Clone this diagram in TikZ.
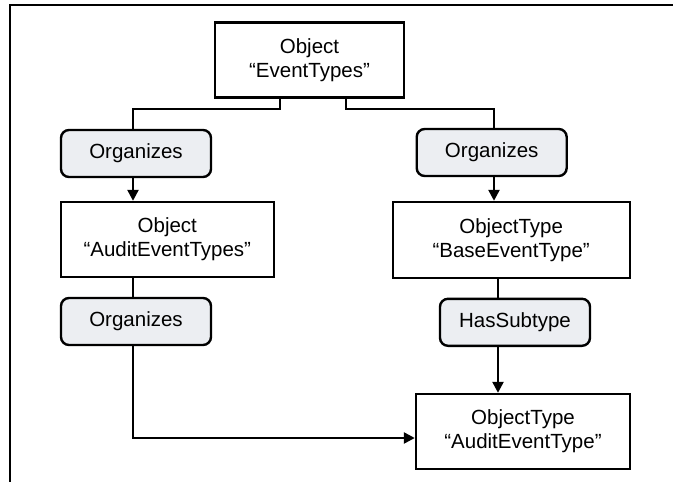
\documentclass[tikz,border=0pt]{standalone}
\usepackage{fontspec}
\setmainfont{Liberation Sans}
\usetikzlibrary{arrows.meta}
\definecolor{refgray}{RGB}{236,238,242}
\tikzset{
  objbox/.style={draw=black, line width=2.4pt, fill=white, minimum width=#1, minimum height=75pt, align=center, inner sep=0pt, font=\fontsize{20.5}{24}\selectfont},
  refbox/.style={draw=black, line width=2.4pt, fill=refgray, rounded corners=8pt, minimum width=150pt, minimum height=47pt, inner sep=0pt, font=\fontsize{20.5}{24}\selectfont},
  conn/.style={line width=2.4pt},
  arr/.style={line width=2.4pt, -{Triangle[length=11pt,width=11pt]}},
  frame/.style={line width=2.4pt}
}
\begin{document}
\begin{tikzpicture}[x=1pt,y=-1pt]
\useasboundingbox (0,0) rectangle (673,482);
\coordinate (fa) at (10,482);
\coordinate (fb) at (10,5);
\coordinate (fc) at (673,5);
\draw[frame] (fa) -- (fb) -- (fc);

\node[objbox=189pt] (et) at (309.5,60) {Object\\``EventTypes''};
\node[refbox] (o1) at (136,153.5) {Organizes};
\node[objbox=213pt] (aets) at (167.3,239.5) {Object\\``AuditEventTypes''};
\node[refbox] (o2) at (136,321.5) {Organizes};
\node[refbox] (o3) at (491.7,152.5) {Organizes};
\node[objbox=237pt, minimum height=76pt] (bet) at (511.2,240) {ObjectType\\``BaseEventType''};
\node[refbox] (hs) at (515,322.3) {HasSubtype};
\node[objbox=214pt] (aety) at (523,431.5) {ObjectType\\``AuditEventType''};

\coordinate (lx) at (133,0);
\coordinate (tl) at (280,0);
\coordinate (tr) at (346,0);
\coordinate (rx) at (494,0);
\coordinate (rx2) at (498,0);

\draw[conn] (et.south -| tl) -- ++(0,10) -| (o1.north -| lx);
\draw[arr] (o1.south -| lx) -- (aets.north -| lx);
\draw[conn] (aets.south -| lx) -- (o2.north -| lx);
\draw[arr] (o2.south -| lx) |- ([yshift=-6.5pt]aety.west);

\draw[conn] (et.south -| tr) -- ++(0,10) -| (o3.north -| rx);
\draw[arr] (o3.south -| rx) -- (bet.north -| rx);
\draw[conn] (bet.south -| rx2) -- (hs.north -| rx2);
\draw[arr] (hs.south -| rx2) -- (aety.north -| rx2);
\end{tikzpicture}
\end{document}
